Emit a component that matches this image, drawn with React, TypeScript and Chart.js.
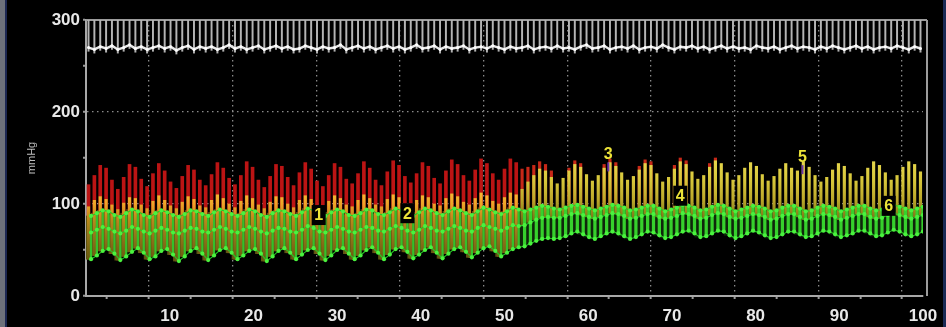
import React, { useEffect, useRef } from 'react';
import { Chart, registerables } from 'chart.js';

Chart.register(...registerables);

// ---- Data ----
// beat times (s)
const beatTimes = [
  0.3, 1.0, 1.7, 2.4, 3.1, 3.8, 4.5, 5.2, 5.9, 6.6,
  7.3, 8.0, 8.7, 9.4, 10.1, 10.8, 11.5, 12.2, 12.9, 13.6,
  14.3, 15.0, 15.7, 16.4, 17.1, 17.8, 18.5, 19.2, 19.9, 20.6,
  21.3, 22.0, 22.7, 23.4, 24.1, 24.8, 25.5, 26.2, 26.9, 27.6,
  28.3, 29.0, 29.7, 30.4, 31.1, 31.8, 32.5, 33.2, 33.9, 34.6,
  35.3, 36.0, 36.7, 37.4, 38.1, 38.8, 39.5, 40.2, 40.9, 41.6,
  42.3, 43.0, 43.7, 44.4, 45.1, 45.8, 46.5, 47.2, 47.9, 48.6,
  49.3, 50.0, 50.7, 51.4, 52.1, 52.8, 53.5, 54.2, 54.9, 55.6,
  56.3, 57.0, 57.7, 58.4, 59.1, 59.8, 60.5, 61.2, 61.9, 62.6,
  63.3, 64.0, 64.7, 65.4, 66.1, 66.8, 67.5, 68.2, 68.9, 69.6,
  70.3, 71.0, 71.7, 72.4, 73.1, 73.8, 74.5, 75.2, 75.9, 76.6,
  77.3, 78.0, 78.7, 79.4, 80.1, 80.8, 81.5, 82.2, 82.9, 83.6,
  84.3, 85.0, 85.7, 86.4, 87.1, 87.8, 88.5, 89.2, 89.9, 90.6,
  91.3, 92.0, 92.7, 93.4, 94.1, 94.8, 95.5, 96.2, 96.9, 97.6,
  98.3, 99.0, 99.7,
];

// red trace systolic peaks (mmHg), null = hidden under yellow
const redSys: (number | null)[] = [
  121, 131, 142, 139, 126, 116, 129, 143, 140, 127,
  119, 133, 144, 136, 124, 117, 130, 142, 137, 126,
  120, 132, 145, 139, 128, 121, 131, 146, 140, 126,
  118, 130, 143, 141, 129, 120, 134, 145, 138, 125,
  119, 131, 144, 140, 127, 122, 133, 146, 139, 126,
  120, 135, 147, 142, 130, 123, 133, 145, 141, 128,
  122, 136, 148, 143, 131, 125, 137, 149, 144, 133,
  126, 138, 149, 145, 138, 140, 142, 146, 143, 136,
  null, null, 139, 147, 144, null, null, null, 143, 149,
  145, null, null, null, 141, 148, 146, null, null, null,
  142, 150, 147, null, null, null, 144, 150, null, null,
  null, null, null, null, null, null, null, null, null, null,
  null, null, null, null, null, null, null, null, null, null,
  null, null, null, null, null, null, null, null, null, null,
  null, null, null,
];

// yellow trace systolic peaks (mmHg)
const yellowSys = [
  97, 104, 108, 105, 99, 94, 101, 107, 106, 99,
  95, 103, 109, 104, 98, 95, 102, 108, 105, 98,
  96, 104, 110, 106, 100, 96, 103, 109, 106, 99,
  95, 102, 108, 107, 100, 96, 104, 109, 105, 98,
  96, 103, 109, 106, 99, 97, 104, 110, 106, 99,
  97, 105, 110, 107, 100, 97, 104, 109, 107, 100,
  98, 106, 111, 108, 102, 99, 106, 112, 109, 103,
  100, 107, 112, 110, 116, 124, 131, 138, 136, 129,
  122, 128, 136, 143, 140, 132, 125, 131, 139, 145,
  141, 134, 126, 130, 137, 144, 142, 133, 124, 129,
  138, 146, 143, 135, 127, 131, 140, 147, 144, 134,
  126, 131, 139, 145, 141, 132, 125, 130, 138, 144,
  139, 136, 146, 140, 131, 124, 129, 137, 144, 141,
  133, 125, 130, 139, 146, 142, 134, 126, 131, 140,
  146, 143, 135,
];

// green trace: upper, middle and lower sample levels (mmHg)
const greenHigh = [
  87, 90, 93, 92, 88, 86, 90, 94, 92, 88,
  86, 90, 93, 91, 88, 86, 89, 93, 92, 89,
  87, 91, 94, 92, 89, 87, 90, 94, 92, 88,
  86, 90, 93, 92, 89, 87, 91, 95, 93, 89,
  87, 91, 94, 92, 88, 87, 90, 94, 93, 89,
  88, 91, 95, 93, 89, 87, 91, 95, 93, 90,
  88, 92, 95, 93, 90, 88, 92, 96, 94, 91,
  89, 92, 96, 94, 92, 94, 96, 98, 97, 95,
  94, 96, 98, 99, 97, 95, 93, 95, 97, 99,
  98, 96, 93, 94, 96, 98, 98, 95, 92, 94,
  96, 99, 98, 96, 93, 94, 97, 99, 98, 95,
  92, 94, 96, 98, 97, 95, 92, 93, 96, 98,
  98, 95, 92, 93, 96, 98, 97, 95, 92, 94,
  96, 98, 98, 95, 93, 94, 97, 99, 97, 95,
  93, 95, 97,
];

const greenMid = [
  69, 72, 75, 73, 70, 68, 71, 75, 73, 70,
  68, 71, 74, 72, 69, 68, 71, 74, 73, 70,
  69, 72, 75, 73, 70, 69, 72, 75, 73, 70,
  68, 71, 74, 73, 70, 69, 72, 76, 74, 70,
  69, 72, 75, 73, 70, 69, 72, 75, 74, 71,
  70, 73, 76, 74, 71, 69, 72, 76, 74, 71,
  70, 73, 76, 74, 71, 70, 74, 77, 75, 73,
  71, 74, 77, 76, 77, 80, 83, 85, 86, 85,
  85, 87, 89, 90, 88, 86, 84, 86, 88, 90,
  89, 87, 84, 85, 87, 89, 89, 86, 84, 85,
  87, 90, 89, 87, 84, 85, 88, 90, 89, 86,
  84, 85, 87, 89, 88, 86, 83, 84, 87, 89,
  89, 86, 83, 84, 87, 89, 88, 86, 83, 85,
  87, 89, 89, 86, 84, 85, 88, 90, 88, 86,
  84, 86, 88,
];

const greenLow = [
  40, 44, 49, 51, 46, 39, 43, 48, 52, 47,
  40, 43, 49, 51, 45, 38, 43, 49, 52, 46,
  39, 44, 50, 52, 47, 40, 44, 49, 51, 46,
  38, 43, 49, 52, 47, 40, 45, 50, 52, 46,
  39, 44, 50, 52, 46, 40, 44, 50, 53, 47,
  40, 45, 51, 53, 48, 41, 45, 50, 53, 47,
  41, 46, 51, 53, 48, 42, 47, 52, 54, 49,
  43, 47, 51, 53, 54, 57, 60, 62, 63, 62,
  63, 65, 68, 70, 67, 64, 62, 65, 68, 70,
  68, 65, 62, 64, 67, 70, 69, 66, 63, 64,
  67, 70, 71, 68, 64, 65, 68, 71, 70, 66,
  63, 65, 68, 71, 69, 66, 63, 64, 67, 70,
  70, 67, 64, 65, 68, 71, 70, 67, 64, 66,
  68, 71, 71, 68, 65, 66, 69, 72, 70, 67,
  65, 67, 70,
];

// white (top) trace baseline between spikes (mmHg scale)
const whiteBase = [
  270, 268, 271, 269, 272, 268, 270, 273, 269, 271,
  268, 270, 272, 269, 271, 267, 270, 272, 268, 271,
  269, 271, 268, 270, 273, 269, 271, 268, 270, 272,
  268, 270, 272, 269, 271, 268, 269, 272, 270, 268,
  271, 269, 270, 273, 268, 270, 272, 269, 271, 268,
  270, 272, 269, 271, 268, 270, 273, 269, 270, 272,
  268, 271, 269, 270, 272, 268, 270, 271, 269, 272,
  270, 268, 271, 269, 270, 272, 268, 270, 271, 269,
  272, 269, 270, 268, 271, 273, 269, 270, 272, 268,
  270, 271, 269, 272, 268, 270, 271, 269, 273, 270,
  268, 271, 270, 272, 269, 271, 268, 270, 272, 269,
  271, 269, 270, 268, 272, 270, 269, 271, 268, 270,
  272, 269, 271, 270, 268, 271, 269, 272, 270, 268,
  270, 272, 269, 271, 268, 270, 271, 269, 272, 270,
  268, 271, 269,
];
const whitePeak = 300;

// event markers
const markerLabels = ['1', '2', '3', '4', '5', '6'];
const markerTimes = [27.8, 38.4, 62.4, 71.0, 85.6, 95.9];
const markerValues = [88, 90, 155, 109, 152, 98];
const markerBoxed = [true, true, false, true, false, true];

// change of state (green level shift)
const transitionTime = 52;

// axes
const xMin = 0, xMax = 100, xStep = 5, xLabelEvery = 10;
const yMin = 0, yMax = 300, yStep = 50, yLabelEvery = 100;

// ---- Styles ----
const FONT = '"Liberation Sans", Arial, sans-serif';
const greenPhase = 0.3;

function vGrad(chart: any, stops: [number, string][], fallback: string) {
  const { ctx, chartArea, scales } = chart;
  if (!chartArea || !scales.y) return fallback;
  const y = scales.y;
  const top = y.getPixelForValue(yMax);
  const bot = y.getPixelForValue(yMin);
  const g = ctx.createLinearGradient(0, top, 0, bot);
  stops.forEach(([v, c]) => g.addColorStop(Math.min(1, Math.max(0, (yMax - v) / (yMax - yMin))), c));
  return g;
}

const preYellowStops: [number, string][] = [
  [115, '#f4c034'], [100, '#eea428'], [85, '#c08a1c'], [65, '#94741a'], [40, '#6a5a10'],
];
const postYellowStops: [number, string][] = [
  [150, '#e8d84e'], [125, '#d6c63a'], [105, '#bca82a'], [92, '#948a1c'], [70, '#4a5410'],
];

const framePlugin = {
  id: 'frame',
  beforeDatasetsDraw(chart: any) {
    const { ctx, chartArea } = chart;
    ctx.save();
    ctx.strokeStyle = '#9c9c9c';
    ctx.lineWidth = 2;
    ctx.beginPath();
    ctx.moveTo(chartArea.left, chartArea.top);
    ctx.lineTo(chartArea.right + 4, chartArea.top);
    ctx.moveTo(chartArea.right + 4, chartArea.top);
    ctx.lineTo(chartArea.right + 4, chartArea.bottom);
    ctx.stroke();
    ctx.restore();
  },
};

const markerPlugin = {
  id: 'markers',
  afterDatasetsDraw(chart: any) {
    const { ctx, scales } = chart;
    ctx.save();
    ctx.font = `bold 16px ${FONT}`;
    ctx.textAlign = 'center';
    ctx.textBaseline = 'middle';
    markerLabels.forEach((lab, i) => {
      const px = scales.x.getPixelForValue(markerTimes[i]);
      const py = scales.y.getPixelForValue(markerValues[i]);
      if (markerBoxed[i]) {
        ctx.fillStyle = '#000';
        ctx.fillRect(px - 7, py - 10, 14, 20);
      } else {
        ctx.strokeStyle = '#6a34a8';
        ctx.lineWidth = 2;
        ctx.beginPath();
        ctx.moveTo(px, py + 9);
        ctx.lineTo(px, py + 18);
        ctx.stroke();
      }
      ctx.fillStyle = '#ece338';
      ctx.fillText(lab, px, py + 1);
    });
    ctx.restore();
  },
};

export default function App() {
  const ref = useRef<HTMLCanvasElement>(null);

  useEffect(() => {
    const canvas = ref.current;
    if (!canvas) return;
    const idx = beatTimes.map((_, i) => i);
    const isPre = (i: number) => beatTimes[i] < transitionTime;

    const redPreData = idx.filter((i) => isPre(i) && redSys[i] != null)
      .map((i) => ({ x: beatTimes[i], y: [greenHigh[i], redSys[i] as number] }));
    const redPostData = idx.filter((i) => !isPre(i) && redSys[i] != null)
      .map((i) => ({ x: beatTimes[i], y: [greenHigh[i], redSys[i] as number] }));
    const yellowData = idx.map((i) => ({
      x: beatTimes[i],
      y: [isPre(i) ? greenLow[i] : greenMid[i], yellowSys[i]],
    }));
    const fillData = idx.map((i) => ({ x: beatTimes[i], y: [greenLow[i], greenHigh[i]] }));
    const greenBarPre = idx.filter(isPre).map((i) => ({ x: beatTimes[i] + greenPhase, y: [greenLow[i], greenHigh[i]] }));
    const greenBarPost = idx.filter((i) => !isPre(i)).map((i) => ({ x: beatTimes[i] + greenPhase, y: [greenLow[i], greenHigh[i]] }));
    const gLine = (arr: number[]) => idx.map((i) => ({ x: beatTimes[i] + greenPhase, y: arr[i] }));
    const whiteSpikeData = idx.map((i) => ({ x: beatTimes[i], y: [whiteBase[i] - 4, whitePeak] }));
    const whiteLineData = idx.map((i) => ({ x: beatTimes[i], y: whiteBase[i] }));

    const greenLineStyle = {
      type: 'line' as const,
      borderColor: '#28c426',
      borderWidth: 1.1,
      pointRadius: 2.1,
      pointBackgroundColor: '#4af23e',
      pointBorderWidth: 0,
      tension: 0,
      order: 1,
    };

    const chart = new Chart(canvas, {
      type: 'bar',
      data: {
        datasets: [
          {
            label: 'fill',
            data: fillData as any,
            backgroundColor: (c: any) => (c.raw && c.raw.x < transitionTime ? '#5c5312' : '#0f260b'),
            barThickness: 6,
            grouped: false,
            order: 7,
          },
          {
            label: 'red',
            data: redPreData as any,
            backgroundColor: '#bc1414',
            barThickness: 3,
            grouped: false,
            order: 6,
          },
          {
            label: 'redTips',
            data: redPostData as any,
            backgroundColor: '#c82818',
            barThickness: 2.5,
            grouped: false,
            order: 6,
          },
          {
            label: 'yellow',
            data: yellowData as any,
            backgroundColor: (c: any) =>
              c.raw && c.raw.x < transitionTime
                ? vGrad(c.chart, preYellowStops, '#e8a428')
                : vGrad(c.chart, postYellowStops, '#d6c63a'),
            barThickness: 2.5,
            grouped: false,
            order: 5,
          },
          {
            label: 'greenBarsPre',
            data: greenBarPre as any,
            backgroundColor: '#34c02a',
            barThickness: 1.6,
            grouped: false,
            order: 4,
          },
          {
            label: 'greenBarsPost',
            data: greenBarPost as any,
            backgroundColor: '#36d02c',
            barThickness: 2.6,
            grouped: false,
            order: 4,
          },
          { ...greenLineStyle, label: 'greenLow', data: gLine(greenLow) as any },
          { ...greenLineStyle, label: 'greenMid', data: gLine(greenMid) as any },
          { ...greenLineStyle, label: 'greenHigh', data: gLine(greenHigh) as any },
          {
            label: 'whiteSpikes',
            data: whiteSpikeData as any,
            backgroundColor: '#b4b4b4',
            barThickness: 1.3,
            grouped: false,
            order: 3,
          },
          {
            type: 'line' as const,
            label: 'whiteBase',
            data: whiteLineData as any,
            borderColor: '#e8e8e8',
            borderWidth: 2.5,
            pointRadius: 1.5,
            pointBackgroundColor: '#ffffff',
            pointBorderWidth: 0,
            tension: 0,
            order: 2,
          },
        ] as any,
      },
      options: {
        responsive: false,
        animation: false,
        layout: { padding: { top: 20, right: 23, left: 0, bottom: 0 } },
        plugins: { legend: { display: false }, tooltip: { enabled: false } },
        scales: {
          x: {
            type: 'linear',
            min: xMin,
            max: xMax,
            offset: false,
            afterFit: (s: any) => { s.height = 31; },
            ticks: {
              stepSize: xStep,
              autoSkip: false,
              maxRotation: 0,
              padding: 7,
              color: '#e8e8e8',
              font: { family: FONT, size: 17, weight: 'bold' },
              callback: (v: any) => (Number(v) % xLabelEvery === 0 && Number(v) > 0 ? String(v) : ''),
            },
            grid: {
              color: (c: any) =>
                c.tick && c.tick.value % xLabelEvery === 0 && c.tick.value > 0 ? '#8a8a8a' : 'rgba(0,0,0,0)',
              lineWidth: 1.3,
              tickColor: '#9a9a9a',
              tickLength: 3,
              tickWidth: 2,
            },
            border: { display: true, color: '#a8a8a8', width: 2, dash: [1.5, 3.5] },
          },
          y: {
            type: 'linear',
            min: yMin,
            max: yMax,
            afterFit: (s: any) => { s.width = 86; },
            title: {
              display: true,
              text: 'mmHg',
              color: '#bdbdbd',
              font: { family: FONT, size: 11 },
              padding: { top: 25, bottom: 0 },
            },
            ticks: {
              stepSize: yStep,
              autoSkip: false,
              padding: 3,
              color: '#e8e8e8',
              font: { family: FONT, size: 17, weight: 'bold' },
              callback: (v: any) => (Number(v) % yLabelEvery === 0 ? String(v) : ''),
            },
            grid: {
              color: (c: any) =>
                c.tick && c.tick.value % yLabelEvery === 0 && c.tick.value > yMin && c.tick.value < yMax
                  ? '#8a8a8a'
                  : 'rgba(0,0,0,0)',
              lineWidth: 1.3,
              tickColor: '#9a9a9a',
              tickLength: 3,
              tickWidth: 2,
            },
            border: { display: true, color: '#a8a8a8', width: 2, dash: [1.5, 3.5] },
          },
        },
      } as any,
      plugins: [framePlugin, markerPlugin],
    });
    return () => chart.destroy();
  }, []);

  return (
    <div style={{ position: 'fixed', left: 0, top: 0, width: 946, height: 327, background: '#000', overflow: 'hidden' }}>
      <canvas ref={ref} width={946} height={327} style={{ position: 'absolute', left: 0, top: 0, width: 946, height: 327 }} />
      <div style={{ position: 'absolute', left: 0, top: 0, width: 5, height: 327, background: '#6d717b' }} />
      <div style={{ position: 'absolute', left: 5, top: 0, width: 2, height: 327, background: '#1c2752' }} />
      <div style={{ position: 'absolute', right: 0, top: 0, width: 3, height: 327, background: '#1a2a55' }} />
    </div>
  );
}
